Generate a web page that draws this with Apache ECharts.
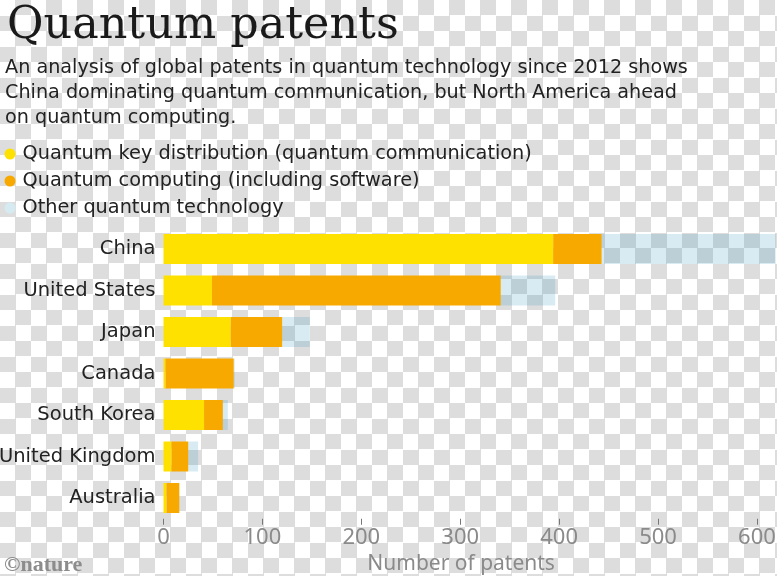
<!DOCTYPE html>
<html>
<head>
<meta charset="utf-8">
<script src="https://cdn.jsdelivr.net/npm/echarts@6/dist/echarts.min.js"></script>
<style>
  html, body { margin: 0; padding: 0; }
  body {
    width: 777px; height: 576px; overflow: hidden;
    background-color: #ffffff;
    background-image: conic-gradient(#dddddd 25%, transparent 0 50%, #dddddd 0 75%, transparent 0);
    background-size: 31px 31px;
  }
  #chart { width: 777px; height: 576px; }
</style>
</head>
<body>
<div id="chart"></div>
<script>
// ---- data ----
const countries = ['China', 'United States', 'Japan', 'Canada', 'South Korea', 'United Kingdom', 'Australia'];
const seriesNames = [
  'Quantum key distribution (quantum communication)',
  'Quantum computing (including software)',
  'Other quantum technology'
];
const keyDistribution = [394, 49, 68, 2, 41, 8, 3];
const computing      = [49, 292, 52, 69, 19, 17, 13];
const otherTech      = [176, 55, 28, 1, 5, 10, 0];
const xTicks = [0, 100, 200, 300, 400, 500, 600];

const titleText = 'Quantum patents';
const subtitleLines = [
  'An analysis of global patents in quantum technology since 2012 shows',
  'China dominating quantum communication, but North America ahead',
  'on quantum computing.'
];
const axisTitle = 'Number of patents';
const creditText = '©nature';

// ---- chart ----
const sans = '"DejaVu Sans", sans-serif';
const axisSans = '"Noto Sans", "Open Sans", sans-serif';
const colors = ['#ffe100', '#f7a900', 'rgba(60,155,195,0.2)'];

const chart = echarts.init(document.getElementById('chart'), null, { renderer: 'canvas' });

const graphics = [
  {
    type: 'text', left: 7, top: 4,
    style: { text: titleText, font: '44.5px "DejaVu Serif", serif', fill: '#1a1a1a' }
  },
  {
    type: 'text', x: 5, y: 56,
    style: {
      text: subtitleLines.join('\n'), font: '19.2px ' + sans, fill: '#222222',
      lineHeight: 25, verticalAlign: 'top'
    }
  },
  {
    type: 'text', x: 4, y: 565,
    style: { text: creditText, font: 'bold 22px "Liberation Serif", serif', fill: '#8c8c8c', verticalAlign: 'middle' }
  }
];

chart.setOption({
  animation: false,
  backgroundColor: 'transparent',
  color: colors,
  graphic: graphics,
  legend: {
    orient: 'vertical',
    left: 4.5,
    top: 144,
    padding: 0,
    icon: 'circle',
    itemWidth: 11,
    itemHeight: 11,
    itemGap: 7,
    selectedMode: false,
    data: seriesNames.map((n, i) => ({ name: n, itemStyle: { color: i === 2 ? '#d6eaf2' : colors[i] } })),
    textStyle: { fontFamily: sans, fontSize: 19.3, color: '#222222', lineHeight: 20, padding: [0, 0, 0, 2] }
  },
  grid: { left: 163.5, right: 0.3, top: 228.25, height: 290.5, outerBoundsMode: 'none', containLabel: false },
  xAxis: {
    type: 'value',
    min: 0,
    max: 620,
    name: axisTitle,
    nameLocation: 'middle',
    nameGap: 34,
    nameTextStyle: { fontFamily: axisSans, fontSize: 21, color: '#8a8a8a', padding: [0, 18, 0, 0] },
    axisLine: { show: false },
    splitLine: { show: false },
    axisTick: { show: true, length: 6, lineStyle: { color: '#777777', width: 1 }, customValues: xTicks },
    axisLabel: { fontFamily: axisSans, fontSize: 22, color: '#8a8a8a', margin: 8, customValues: xTicks }
  },
  yAxis: {
    type: 'category',
    data: countries,
    inverse: true,
    axisLine: { show: false },
    axisTick: { show: false },
    splitLine: { show: false },
    axisLabel: { fontFamily: sans, fontSize: 19.5, color: '#222222', margin: 8 }
  },
  series: [keyDistribution, computing, otherTech].map((vals, i) => ({
    name: seriesNames[i],
    type: 'bar',
    stack: 'total',
    data: vals,
    barWidth: 30,
    itemStyle: { color: colors[i] },
    emphasis: { disabled: true }
  }))
});
</script>
</body>
</html>
